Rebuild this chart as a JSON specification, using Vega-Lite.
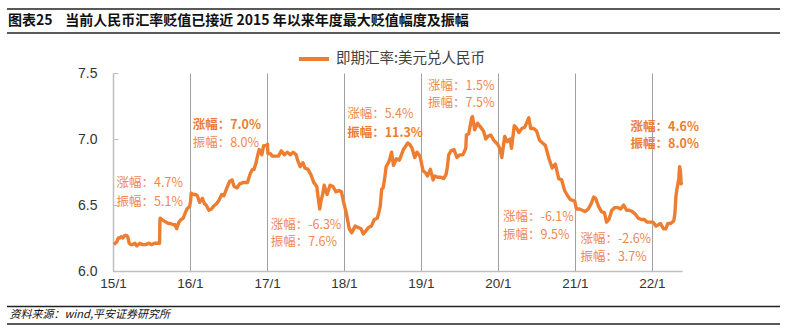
{
  "$schema": "https://vega.github.io/schema/vega-lite/v6.json",
  "autosize": "none",
  "width": 569,
  "height": 198,
  "padding": {"left": 113, "top": 73, "right": 104, "bottom": 57},
  "background": "white",
  "config": {"view": {"stroke": null}},
  "layer": [
    {
      "data": {"values": [{"t": "图表25\u00a0\u00a0\u00a0\u00a0当前人民币汇率贬值已接近 2015 年以来年度最大贬值幅度及振幅"}]},
      "mark": {"type": "text", "align": "left", "baseline": "middle", "font": "Noto Sans CJK SC", "fontSize": 14, "fontWeight": "bold", "color": "#111111"},
      "encoding": {"x": {"value": -105}, "y": {"value": -52}, "text": {"field": "t"}}
    },
    {
      "data": {"values": [{}]},
      "mark": {"type": "rule", "stroke": "#222222", "strokeWidth": 1.5},
      "encoding": {"x": {"value": -106}, "x2": {"value": 667}, "y": {"value": -64}}
    },
    {
      "data": {"values": [{}]},
      "mark": {"type": "rule", "stroke": "#222222", "strokeWidth": 1.5},
      "encoding": {"x": {"value": -106}, "x2": {"value": 667}, "y": {"value": -40}}
    },
    {
      "data": {"values": [{}]},
      "mark": {"type": "rule", "stroke": "#222222", "strokeWidth": 1.5},
      "encoding": {"x": {"value": -106}, "x2": {"value": 667}, "y": {"value": 233.5}}
    },
    {
      "data": {"values": [{}]},
      "mark": {"type": "rule", "stroke": "#222222", "strokeWidth": 1.5},
      "encoding": {"x": {"value": -106}, "x2": {"value": 667}, "y": {"value": 251}}
    },
    {
      "data": {"values": [
        {"d":"2015-01-05","v":6.20},{"d":"2015-01-12","v":6.21},{"d":"2015-01-19","v":6.22},{"d":"2015-01-26","v":6.25},
        {"d":"2015-02-02","v":6.25},{"d":"2015-02-09","v":6.26},{"d":"2015-02-16","v":6.25},{"d":"2015-02-26","v":6.27},
        {"d":"2015-03-05","v":6.27},{"d":"2015-03-12","v":6.26},{"d":"2015-03-19","v":6.21},{"d":"2015-03-26","v":6.20},
        {"d":"2015-04-03","v":6.20},{"d":"2015-04-15","v":6.21},{"d":"2015-04-24","v":6.19},{"d":"2015-05-08","v":6.21},
        {"d":"2015-05-22","v":6.20},{"d":"2015-06-05","v":6.20},{"d":"2015-06-19","v":6.21},{"d":"2015-07-03","v":6.20},
        {"d":"2015-07-17","v":6.21},{"d":"2015-07-31","v":6.21},{"d":"2015-08-10","v":6.21},{"d":"2015-08-11","v":6.32},
        {"d":"2015-08-12","v":6.39},{"d":"2015-08-13","v":6.40},{"d":"2015-08-21","v":6.39},{"d":"2015-08-31","v":6.38},
        {"d":"2015-09-10","v":6.37},{"d":"2015-09-22","v":6.36},{"d":"2015-09-30","v":6.36},{"d":"2015-10-15","v":6.35},
        {"d":"2015-10-23","v":6.35},{"d":"2015-10-30","v":6.32},{"d":"2015-11-10","v":6.37},{"d":"2015-11-20","v":6.39},
        {"d":"2015-11-30","v":6.40},{"d":"2015-12-10","v":6.44},{"d":"2015-12-18","v":6.47},{"d":"2015-12-31","v":6.49},
        {"d":"2016-01-04","v":6.53},{"d":"2016-01-07","v":6.59},{"d":"2016-01-15","v":6.58},{"d":"2016-01-29","v":6.58},
        {"d":"2016-02-05","v":6.57},{"d":"2016-02-16","v":6.52},{"d":"2016-02-29","v":6.55},{"d":"2016-03-10","v":6.51},
        {"d":"2016-03-18","v":6.50},{"d":"2016-03-31","v":6.46},{"d":"2016-04-12","v":6.47},{"d":"2016-04-22","v":6.49},
        {"d":"2016-05-06","v":6.51},{"d":"2016-05-16","v":6.53},{"d":"2016-05-31","v":6.58},{"d":"2016-06-10","v":6.57},
        {"d":"2016-06-27","v":6.64},{"d":"2016-07-08","v":6.68},{"d":"2016-07-19","v":6.69},{"d":"2016-07-29","v":6.64},
        {"d":"2016-08-12","v":6.63},{"d":"2016-08-24","v":6.66},{"d":"2016-09-09","v":6.67},{"d":"2016-09-23","v":6.67},
        {"d":"2016-09-30","v":6.67},{"d":"2016-10-14","v":6.74},{"d":"2016-10-24","v":6.77},{"d":"2016-10-31","v":6.77},
        {"d":"2016-11-10","v":6.82},{"d":"2016-11-18","v":6.88},{"d":"2016-11-25","v":6.92},{"d":"2016-12-07","v":6.88},
        {"d":"2016-12-16","v":6.95},{"d":"2016-12-30","v":6.95},
        {"d":"2017-01-03","v":6.96},{"d":"2017-01-05","v":6.89},{"d":"2017-01-16","v":6.89},{"d":"2017-01-26","v":6.87},
        {"d":"2017-02-10","v":6.87},{"d":"2017-02-24","v":6.87},{"d":"2017-03-10","v":6.91},{"d":"2017-03-24","v":6.88},
        {"d":"2017-04-07","v":6.90},{"d":"2017-04-21","v":6.88},{"d":"2017-05-05","v":6.90},{"d":"2017-05-19","v":6.88},
        {"d":"2017-05-26","v":6.84},{"d":"2017-06-07","v":6.79},{"d":"2017-06-20","v":6.82},{"d":"2017-06-30","v":6.78},
        {"d":"2017-07-14","v":6.77},{"d":"2017-07-28","v":6.73},{"d":"2017-08-11","v":6.67},{"d":"2017-08-25","v":6.64},
        {"d":"2017-09-01","v":6.55},{"d":"2017-09-08","v":6.47},{"d":"2017-09-15","v":6.54},{"d":"2017-09-22","v":6.58},
        {"d":"2017-09-29","v":6.65},{"d":"2017-10-13","v":6.58},{"d":"2017-10-27","v":6.65},{"d":"2017-11-10","v":6.64},
        {"d":"2017-11-24","v":6.60},{"d":"2017-12-08","v":6.61},{"d":"2017-12-20","v":6.60},{"d":"2017-12-29","v":6.53},
        {"d":"2018-01-12","v":6.44},{"d":"2018-01-26","v":6.32},{"d":"2018-02-07","v":6.29},{"d":"2018-02-23","v":6.34},
        {"d":"2018-03-09","v":6.33},{"d":"2018-03-23","v":6.32},{"d":"2018-04-03","v":6.28},{"d":"2018-04-13","v":6.30},
        {"d":"2018-04-27","v":6.33},{"d":"2018-05-11","v":6.34},{"d":"2018-05-25","v":6.39},{"d":"2018-06-08","v":6.40},
        {"d":"2018-06-15","v":6.44},{"d":"2018-06-22","v":6.49},{"d":"2018-06-29","v":6.62},{"d":"2018-07-06","v":6.63},
        {"d":"2018-07-13","v":6.70},{"d":"2018-07-20","v":6.79},{"d":"2018-08-03","v":6.83},{"d":"2018-08-15","v":6.90},
        {"d":"2018-08-24","v":6.80},{"d":"2018-09-07","v":6.85},{"d":"2018-09-21","v":6.84},{"d":"2018-10-10","v":6.92},
        {"d":"2018-10-31","v":6.97},{"d":"2018-11-09","v":6.96},{"d":"2018-11-20","v":6.93},{"d":"2018-12-03","v":6.86},
        {"d":"2018-12-14","v":6.90},{"d":"2018-12-28","v":6.87},
        {"d":"2019-01-11","v":6.76},{"d":"2019-01-25","v":6.74},{"d":"2019-02-01","v":6.72},{"d":"2019-02-15","v":6.77},
        {"d":"2019-02-28","v":6.69},{"d":"2019-03-08","v":6.72},{"d":"2019-03-22","v":6.71},{"d":"2019-04-05","v":6.71},
        {"d":"2019-04-19","v":6.70},{"d":"2019-04-30","v":6.73},{"d":"2019-05-06","v":6.78},{"d":"2019-05-13","v":6.88},
        {"d":"2019-05-24","v":6.91},{"d":"2019-06-07","v":6.92},{"d":"2019-06-21","v":6.86},{"d":"2019-07-05","v":6.88},
        {"d":"2019-07-19","v":6.88},{"d":"2019-08-02","v":6.93},{"d":"2019-08-05","v":7.03},{"d":"2019-08-16","v":7.04},
        {"d":"2019-08-30","v":7.16},{"d":"2019-09-03","v":7.17},{"d":"2019-09-13","v":7.07},{"d":"2019-09-27","v":7.12},
        {"d":"2019-10-11","v":7.09},{"d":"2019-10-25","v":7.06},{"d":"2019-11-05","v":7.00},{"d":"2019-11-15","v":7.02},
        {"d":"2019-11-29","v":7.03},{"d":"2019-12-13","v":6.99},{"d":"2019-12-31","v":6.96},
        {"d":"2020-01-10","v":6.93},{"d":"2020-01-20","v":6.86},{"d":"2020-02-03","v":7.02},{"d":"2020-02-14","v":6.98},
        {"d":"2020-02-28","v":7.00},{"d":"2020-03-06","v":6.93},{"d":"2020-03-19","v":7.10},{"d":"2020-03-31","v":7.08},
        {"d":"2020-04-10","v":7.05},{"d":"2020-04-24","v":7.08},{"d":"2020-05-08","v":7.09},{"d":"2020-05-27","v":7.16},
        {"d":"2020-06-05","v":7.08},{"d":"2020-06-19","v":7.08},{"d":"2020-07-03","v":7.06},{"d":"2020-07-17","v":6.99},
        {"d":"2020-07-31","v":6.97},{"d":"2020-08-14","v":6.95},{"d":"2020-08-31","v":6.85},{"d":"2020-09-15","v":6.78},
        {"d":"2020-09-30","v":6.81},{"d":"2020-10-16","v":6.70},{"d":"2020-10-30","v":6.69},{"d":"2020-11-13","v":6.61},
        {"d":"2020-11-27","v":6.57},{"d":"2020-12-11","v":6.54},{"d":"2020-12-31","v":6.53},
        {"d":"2021-01-08","v":6.47},{"d":"2021-01-22","v":6.47},{"d":"2021-02-05","v":6.46},{"d":"2021-02-19","v":6.45},
        {"d":"2021-03-05","v":6.47},{"d":"2021-03-19","v":6.51},{"d":"2021-03-31","v":6.56},{"d":"2021-04-09","v":6.55},
        {"d":"2021-04-23","v":6.49},{"d":"2021-05-07","v":6.45},{"d":"2021-05-21","v":6.44},{"d":"2021-05-31","v":6.37},
        {"d":"2021-06-11","v":6.39},{"d":"2021-06-25","v":6.46},{"d":"2021-07-09","v":6.48},{"d":"2021-07-23","v":6.48},
        {"d":"2021-08-06","v":6.47},{"d":"2021-08-20","v":6.50},{"d":"2021-09-03","v":6.46},{"d":"2021-09-17","v":6.46},
        {"d":"2021-09-30","v":6.45},{"d":"2021-10-15","v":6.43},{"d":"2021-10-29","v":6.40},{"d":"2021-11-12","v":6.39},
        {"d":"2021-11-26","v":6.39},{"d":"2021-12-10","v":6.37},{"d":"2021-12-24","v":6.37},
        {"d":"2022-01-07","v":6.37},{"d":"2022-01-21","v":6.34},{"d":"2022-02-11","v":6.36},{"d":"2022-02-25","v":6.32},
        {"d":"2022-03-08","v":6.32},{"d":"2022-03-18","v":6.36},{"d":"2022-03-31","v":6.36},{"d":"2022-04-08","v":6.37},
        {"d":"2022-04-15","v":6.38},{"d":"2022-04-20","v":6.43},{"d":"2022-04-25","v":6.56},{"d":"2022-04-29","v":6.61},
        {"d":"2022-05-09","v":6.70},{"d":"2022-05-12","v":6.78},{"d":"2022-05-13","v":6.79},{"d":"2022-05-17","v":6.75},
        {"d":"2022-05-20","v":6.66},{"d":"2022-05-23","v":6.67}
      ]},
      "mark": {"type": "line", "strokeWidth": 3.4, "strokeJoin": "round"},
      "encoding": {
        "x": {
          "field": "d", "type": "temporal",
          "scale": {"type": "utc", "domain": [{"year": 2015, "month": 1, "date": 1, "utc": true}, {"year": 2022, "month": 5, "date": 24, "utc": true}]},
          "axis": {
            "values": [
              {"year": 2015, "month": 1, "date": 1, "utc": true},
              {"year": 2016, "month": 1, "date": 1, "utc": true},
              {"year": 2017, "month": 1, "date": 1, "utc": true},
              {"year": 2018, "month": 1, "date": 1, "utc": true},
              {"year": 2019, "month": 1, "date": 1, "utc": true},
              {"year": 2020, "month": 1, "date": 1, "utc": true},
              {"year": 2021, "month": 1, "date": 1, "utc": true},
              {"year": 2022, "month": 1, "date": 1, "utc": true}
            ],
            "labelExpr": "utcFormat(datum.value, '%y/%-m')",
            "grid": true, "gridColor": "#a0a0a0", "gridWidth": 1,
            "ticks": false,
            "domainColor": "#bfbfbf", "domainWidth": 1.5,
            "labelFont": "Liberation Sans", "labelFontSize": 13.5, "labelColor": "#333333",
            "labelPadding": 5, "labelFlush": false,
            "title": "资料来源：wind,平安证券研究所",
            "titleAnchor": "start", "titleAlign": "left", "titleBaseline": "middle",
            "titleX": -104, "titleY": 43,
            "titleFont": "Noto Sans CJK SC", "titleFontSize": 11, "titleFontWeight": "normal",
            "titleFontStyle": "italic", "titleColor": "#111111"
          }
        },
        "y": {
          "field": "v", "type": "quantitative",
          "scale": {"domain": [6.0, 7.5], "nice": false, "zero": false},
          "axis": {
            "values": [6.0, 6.5, 7.0, 7.5], "format": ".1f",
            "grid": false,
            "domainColor": "#bfbfbf", "domainWidth": 1.5,
            "tickColor": "#bfbfbf", "tickSize": -5,
            "labelFont": "Liberation Sans", "labelFontSize": 14, "labelColor": "#333333",
            "labelPadding": 21,
            "title": null
          }
        },
        "color": {
          "datum": "即期汇率:美元兑人民币",
          "scale": {"range": ["#ED7D31"]},
          "legend": {
            "orient": "none", "legendX": 184, "legendY": -31,
            "title": null, "padding": 0,
            "symbolType": "stroke", "symbolSize": 900, "symbolStrokeWidth": 4,
            "labelFont": "Noto Sans CJK SC", "labelFontSize": 14.5, "labelColor": "#404040",
            "labelOffset": 5
          }
        }
      }
    },
    {
      "data": {"name": "notes", "values": [
        {"d":"2015-01-18","v":6.667,"t":"涨幅：4.7%","b":0},
        {"d":"2015-01-18","v":6.523,"t":"振幅：5.1%","b":0},
        {"d":"2016-01-14","v":7.106,"t":"涨幅：7.0%","b":1},
        {"d":"2016-01-14","v":6.972,"t":"振幅：8.0%","b":0},
        {"d":"2017-01-18","v":6.348,"t":"涨幅：-6.3%","b":0},
        {"d":"2017-01-18","v":6.222,"t":"振幅：7.6%","b":0},
        {"d":"2018-01-16","v":7.189,"t":"涨幅：5.4%","b":0},
        {"d":"2018-01-16","v":7.048,"t":"振幅：11.3%","b":1},
        {"d":"2019-02-04","v":7.402,"t":"涨幅：1.5%","b":0},
        {"d":"2019-02-04","v":7.270,"t":"振幅：7.5%","b":0},
        {"d":"2020-01-26","v":6.407,"t":"涨幅：-6.1%","b":0},
        {"d":"2020-01-26","v":6.273,"t":"振幅：9.5%","b":0},
        {"d":"2021-01-27","v":6.240,"t":"涨幅：-2.6%","b":0},
        {"d":"2021-01-27","v":6.104,"t":"振幅：3.7%","b":0},
        {"d":"2021-09-22","v":7.093,"t":"涨幅：4.6%","b":1},
        {"d":"2021-09-22","v":6.960,"t":"振幅：8.0%","b":1}
      ]},
      "transform": [{"filter": "datum.b == 0"}],
      "mark": {"type": "text", "align": "left", "baseline": "middle", "font": "Noto Sans CJK SC", "fontSize": 12.5, "fontWeight": "normal", "color": "#F0874D"},
      "encoding": {
        "x": {"field": "d", "type": "temporal"},
        "y": {"field": "v", "type": "quantitative"},
        "text": {"field": "t"}
      }
    },
    {
      "data": {"name": "notes"},
      "transform": [{"filter": "datum.b == 1"}],
      "mark": {"type": "text", "align": "left", "baseline": "middle", "font": "Noto Sans CJK SC", "fontSize": 12.5, "fontWeight": "bold", "color": "#ED7D31"},
      "encoding": {
        "x": {"field": "d", "type": "temporal"},
        "y": {"field": "v", "type": "quantitative"},
        "text": {"field": "t"}
      }
    }
  ]
}
